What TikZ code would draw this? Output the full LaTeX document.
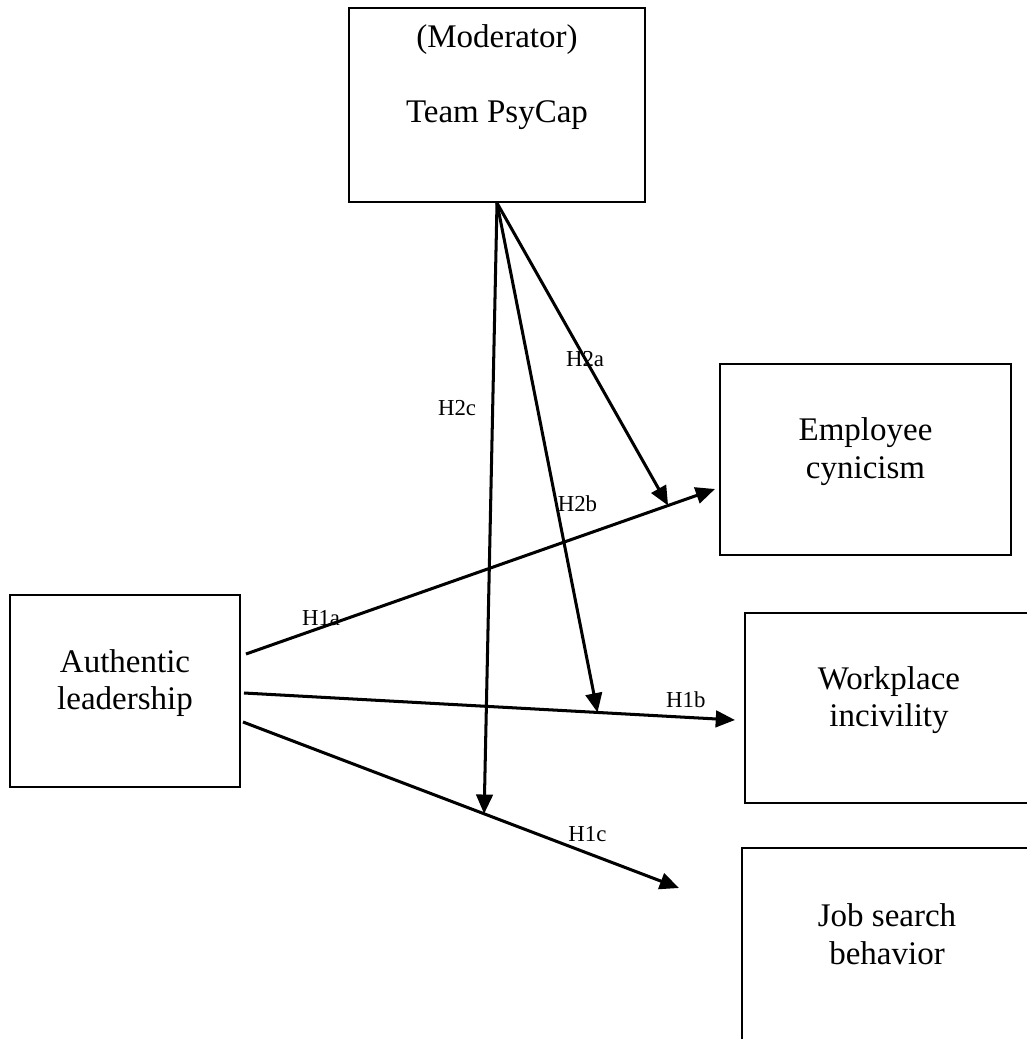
\documentclass[tikz,border=0pt]{standalone}
\usepackage{fontspec}
\setmainfont{Liberation Serif}
\usepackage{tikz}
\usetikzlibrary{arrows.meta, positioning, calc}
\tikzset{
  construct/.style={draw, line width=0.75pt, align=center,
                    font=\fontsize{12}{13.6}\selectfont,
                    text height=13.45pt, text depth=0pt},
  hyparrow/.style={-{Triangle[length=7pt, width=6pt]}, line width=1.1pt},
  hyp/.style={font=\fontsize{8.3}{10}\selectfont, inner sep=0pt},
}

\begin{document}
\begin{tikzpicture}[x=0.3636pt, y=-0.3636pt]
  \useasboundingbox (0,0) rectangle (1027,1039);

  % Constructs
  \node[construct, minimum width=107.6pt, minimum height=70.5pt,
        text height=12.4pt] (mod) at (497,105) {(Moderator)\\[13.6pt]Team PsyCap};
  \node[construct, minimum width=105.8pt, minimum height=69.5pt]
    (cyn) at (865.5,459.5) {Employee\\cynicism};
  \node[construct, minimum width=83.6pt, minimum height=69.8pt]
    (auth) at (125,691) {Authentic\\leadership};
  \node[construct, minimum width=104.7pt, minimum height=69.1pt]
    (inc) at (889,708) {Workplace\\incivility};
  \node[construct, minimum width=105.4pt, minimum height=70.9pt]
    (job) at (887,945.5) {Job search\\behavior};

  % Direct effects
  \draw[hyparrow] ($(auth.east)+(5,-37)$) -- node[hyp, pos=.16, above] {H1a}
    coordinate[pos=.9] (hit-cyn) ($(cyn.west)+(-4,29.5)$);
  \draw[hyparrow] ($(auth.east)+(3,2)$) -- node[hyp, pos=.9, above=3pt] {H1b}
    coordinate[pos=.72] (hit-inc) ($(inc.west)+(-9,12)$);
  \draw[hyparrow] ($(auth.east)+(2,31)$) -- node[hyp, pos=.79, above=3.5pt] {H1c}
    coordinate[pos=.553] (hit-job) ($(job.west)+(-62,-57.5)$);

  % Moderation
  \draw[hyparrow] (mod.south) -- node[hyp, pos=.515] {H2a} (hit-cyn);
  \draw[hyparrow] (mod.south) -- node[hyp, pos=.59, right] {H2b} (hit-inc);
  \draw[hyparrow] (mod.south) -- node[hyp, pos=.335, left=5.5pt] {H2c} (hit-job);

\end{tikzpicture}
\end{document}
